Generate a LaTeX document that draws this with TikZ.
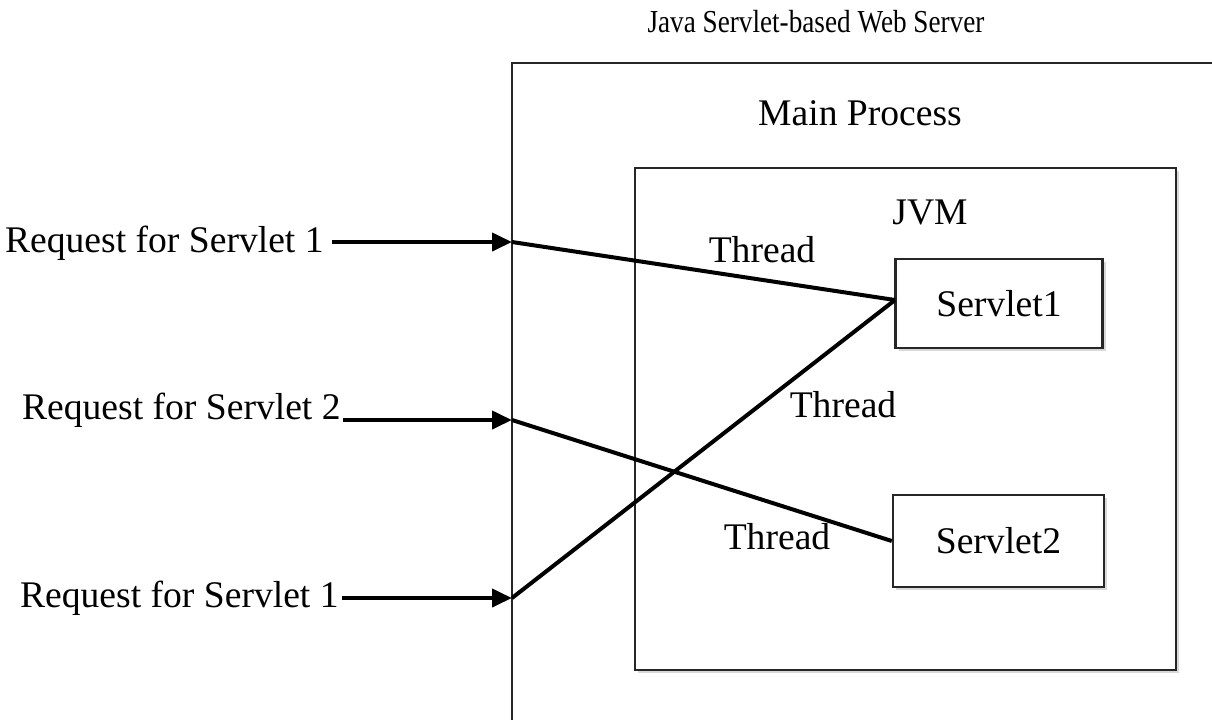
\documentclass[tikz,border=0pt]{standalone}
\usepackage{fontspec}
\setmainfont{Liberation Serif}
\usepackage{graphicx}
\usepackage{tikz}
\usetikzlibrary{arrows.meta,positioning,shadows}

\begin{document}
\begin{tikzpicture}[
  x=0.5pt, y=-0.5pt,
  font=\fontsize{18.8}{22}\selectfont,
  % Node styles
  container/.style={rectangle, draw=black!85, line width=1.3pt, fill=white, inner sep=0pt},
  servlet/.style={rectangle, draw=black!85, line width=1.2pt, fill=white, inner sep=0pt,
    drop shadow={shadow xshift=1.5pt, shadow yshift=-1.5pt, fill=black!30}},
  label/.style={inner sep=0pt},
  request/.style={inner sep=0pt, anchor=east},
  arr/.style={-{Triangle[length=10pt, width=9pt]}, line width=2pt, color=black},
  thread/.style={line width=2pt, color=black}
]
  \useasboundingbox (0,0) rectangle (1212,719);

  % Web server and JVM
  \node[container, minimum width=364pt, minimum height=338.5pt] (server) at (876,401.5) {};
  \node[container, minimum width=270.5pt, minimum height=251pt,
    drop shadow={shadow xshift=1.5pt, shadow yshift=-1.5pt, fill=black!30}] (jvm) at (905.5,419) {};
  \node[servlet, minimum width=103.5pt, minimum height=44.5pt] (s1) at (999,303.5) {Servlet1};
  \node[servlet, minimum width=105.5pt, minimum height=46pt] (s2) at (998.5,541) {Servlet2};

  % Captions
  \node[label, font=\fontsize{16}{18}\selectfont] (title) at (816,22)
    {\scalebox{0.85}[1]{Java Servlet-based Web Server}};
  \node[label] (main) at (860,113) {Main Process};
  \node[label] (jvmlbl) at (930,212) {JVM};

  % Incoming requests
  \node[request] (req1) at (324,243) {Request for Servlet 1};
  \node[request] (req2) at (341,410) {Request for Servlet 2};
  \node[request] (req3) at (339,598) {Request for Servlet 1};
  \coordinate (in1) at (512,242);
  \coordinate (in2) at (512,420);
  \coordinate (in3) at (512,598);

  \draw[arr] (req1.east) ++(8,-1) -- (in1);
  \draw[arr] (req2.east) ++(2,10) -- (in2);
  \draw[arr] (req3.east) ++(3,0) -- (in3);

  % Threads
  \draw[thread] (in1) -- (895,300);
  \draw[thread] (in2) -- (s2.west);
  \draw[thread] (in3) -- (895,300);

  \node[label] (thr1) at (762,250) {Thread};
  \node[label] (thr2) at (843,405) {Thread};
  \node[label] (thr3) at (777,537) {Thread};

\end{tikzpicture}
\end{document}
